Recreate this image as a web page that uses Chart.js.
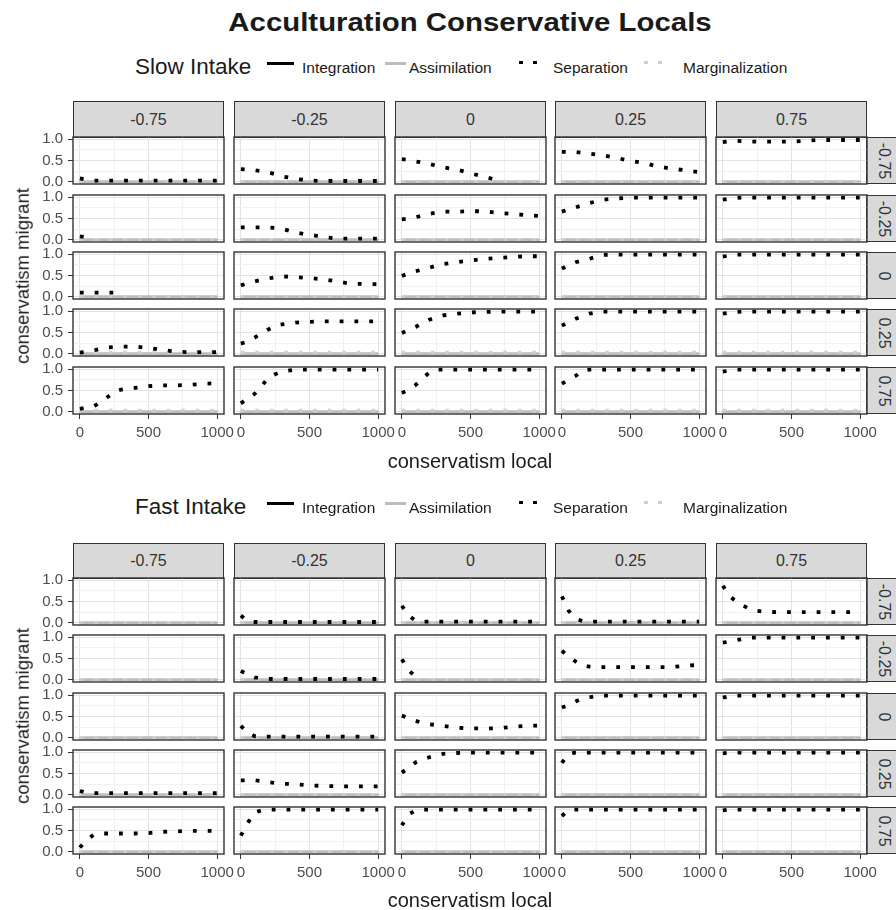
<!DOCTYPE html>
<html><head><meta charset="utf-8">
<script src="https://cdn.jsdelivr.net/npm/chart.js@4.4.1/dist/chart.umd.min.js"></script>
<style>
html,body{margin:0;padding:0;background:#fff;}
#root{position:relative;width:896px;height:910px;overflow:hidden;background:#fff;font-family:"Liberation Sans",Arial,sans-serif;}
canvas{position:absolute;}
.t{position:absolute;white-space:nowrap;line-height:1;}
.strip{position:absolute;background:#d9d9d9;border:1.4px solid #333;box-sizing:border-box;color:#333;font-size:16px;display:flex;align-items:center;justify-content:center;}
.key{position:absolute;}
</style></head>
<body><div id="root"></div>
<script>
// ---------- data ----------
const xLocal = [0,50,100,150,200,250,300,400,500,600,700,800,900,1000];
const colLabels = ['-0.75','-0.25','0','0.25','0.75'];   // conservatism local (columns)
const rowLabels = ['-0.75','-0.25','0','0.25','0.75'];   // conservatism migrant (rows)
const yTickValues = [0, 0.5, 1.0];
const xTickValues = [0, 500, 1000];
const N = null;

// Separation share, slow intake, one list per migrant row, one series per column
const slowSepRow1 = [
  [0.08,0.05,0.03,0.03,0.03,0.03,0.03,0.03,0.03,0.03,0.03,0.03,0.03,0.03],
  [0.30,0.29,0.27,0.25,0.22,0.18,0.13,0.07,0.03,0.02,0.02,0.02,0.02,0.02],
  [0.53,0.51,0.48,0.45,0.42,0.38,0.34,0.29,0.20,0.12,0.04,N,N,N],
  [0.70,0.70,0.70,0.68,0.66,0.64,0.62,0.56,0.49,0.44,0.36,0.31,0.27,0.23],
  [0.93,0.95,0.96,0.95,0.94,0.94,0.94,0.94,0.94,0.96,0.98,0.98,0.98,0.98]
];
const slowSepRow2 = [
  [0.08,0.06,N,N,N,N,N,N,N,N,N,N,N,N],
  [0.29,0.29,0.29,0.29,0.29,0.28,0.26,0.17,0.12,0.07,0.03,0.03,0.03,0.03],
  [0.48,0.50,0.53,0.57,0.61,0.64,0.66,0.66,0.67,0.67,0.63,0.61,0.58,0.56],
  [0.66,0.71,0.76,0.81,0.86,0.90,0.94,0.97,0.99,0.99,0.99,0.99,0.99,0.99],
  [0.94,0.96,0.98,0.99,0.99,0.99,0.99,0.99,0.99,0.99,0.99,0.99,0.99,0.99]
];
const slowSepRow3 = [
  [0.10,0.10,0.10,0.10,0.10,0.10,N,N,N,N,N,N,N,N],
  [0.27,0.32,0.36,0.40,0.43,0.46,0.48,0.46,0.44,0.41,0.36,0.31,0.30,0.30],
  [0.49,0.55,0.60,0.64,0.68,0.73,0.77,0.81,0.85,0.89,0.91,0.93,0.95,0.95],
  [0.66,0.74,0.81,0.85,0.89,0.94,0.98,0.99,0.99,0.99,0.99,0.99,0.99,0.99],
  [0.94,0.97,0.99,0.99,0.99,0.99,0.99,0.99,0.99,0.99,0.99,0.99,0.99,0.99]
];
const slowSepRow4 = [
  [0.03,0.05,0.08,0.12,0.15,0.16,0.17,0.17,0.14,0.09,0.05,0.04,0.04,0.04],
  [0.24,0.29,0.38,0.48,0.57,0.66,0.69,0.73,0.75,0.76,0.76,0.76,0.76,0.76],
  [0.49,0.56,0.63,0.72,0.80,0.86,0.90,0.94,0.97,0.98,0.99,0.99,0.99,0.99],
  [0.66,0.74,0.82,0.88,0.94,0.97,0.99,0.99,0.99,0.99,0.99,0.99,0.99,0.99],
  [0.94,0.96,0.98,0.99,0.99,0.99,0.99,0.99,0.99,0.99,0.99,0.99,0.99,0.99]
];
const slowSepRow5 = [
  [0.07,0.10,0.13,0.22,0.34,0.47,0.52,0.56,0.60,0.62,0.62,0.63,0.66,0.67],
  [0.20,0.31,0.42,0.60,0.80,0.88,0.94,0.99,0.99,0.99,0.99,0.99,0.99,0.99],
  [0.44,0.52,0.63,0.78,0.92,0.99,0.99,0.99,0.99,0.99,0.99,0.99,0.99,0.99],
  [0.66,0.75,0.84,0.97,0.99,0.99,0.99,0.99,0.99,0.99,0.99,0.99,0.99,0.99],
  [0.94,0.97,0.99,0.99,0.99,0.99,0.99,0.99,0.99,0.99,0.99,0.99,0.99,0.99]
];
// Separation share, fast intake
const fastSepRow1 = [
  [N,N,N,N,N,N,N,N,N,N,N,N,N,N],
  [0.17,0.04,0.02,0.02,0.02,0.02,0.02,0.02,0.02,0.02,0.02,0.02,0.02,0.02],
  [0.40,0.17,0.05,0.03,0.03,0.03,0.03,0.03,0.03,0.03,0.03,0.03,0.03,0.03],
  [0.62,0.28,0.10,0.04,0.03,0.03,0.03,0.03,0.03,0.03,0.03,0.03,0.03,0.03],
  [0.87,0.62,0.50,0.40,0.32,0.28,0.26,0.25,0.25,0.25,0.25,0.25,0.25,0.25]
];
const fastSepRow2 = [
  [N,N,N,N,N,N,N,N,N,N,N,N,N,N],
  [0.21,0.12,0.06,0.03,0.02,0.02,0.02,0.02,0.02,0.02,0.02,0.02,0.02,0.02],
  [0.48,0.22,0.08,N,N,N,N,N,N,N,N,N,N,N],
  [0.68,0.55,0.43,0.34,0.31,0.30,0.30,0.30,0.30,0.30,0.30,0.30,0.33,0.35],
  [0.87,0.90,0.93,0.96,0.99,0.99,0.99,0.99,0.99,0.99,0.99,0.99,0.99,0.99]
];
const fastSepRow3 = [
  [N,N,N,N,N,N,N,N,N,N,N,N,N,N],
  [0.28,0.12,0.04,0.03,0.03,0.03,0.03,0.03,0.03,0.03,0.03,0.03,0.03,0.03],
  [0.52,0.46,0.40,0.35,0.32,0.30,0.28,0.24,0.22,0.22,0.22,0.26,0.28,0.29],
  [0.71,0.77,0.85,0.92,0.95,0.98,0.99,0.99,0.99,0.99,0.99,0.99,0.99,0.99],
  [0.94,0.98,0.99,0.99,0.99,0.99,0.99,0.99,0.99,0.99,0.99,0.99,0.99,0.99]
];
const fastSepRow4 = [
  [0.09,0.05,0.04,0.04,0.04,0.04,0.04,0.04,0.04,0.04,0.04,0.04,0.04,0.04],
  [0.34,0.34,0.34,0.32,0.30,0.28,0.26,0.25,0.22,0.21,0.20,0.20,0.20,0.20],
  [0.52,0.64,0.76,0.83,0.88,0.92,0.96,0.98,0.99,0.99,0.99,0.99,0.99,0.99],
  [0.75,0.96,0.99,0.99,0.99,0.99,0.99,0.99,0.99,0.99,0.99,0.99,0.99,0.99],
  [0.97,0.99,0.99,0.99,0.99,0.99,0.99,0.99,0.99,0.99,0.99,0.99,0.99,0.99]
];
const fastSepRow5 = [
  [0.10,0.28,0.40,0.43,0.43,0.43,0.43,0.43,0.44,0.47,0.48,0.49,0.49,0.49],
  [0.38,0.68,0.92,0.97,0.99,0.99,0.99,0.99,0.99,0.99,0.99,0.99,0.99,0.99],
  [0.62,0.88,0.97,0.99,0.99,0.99,0.99,0.99,0.99,0.99,0.99,0.99,0.99,0.99],
  [0.84,0.98,0.99,0.99,0.99,0.99,0.99,0.99,0.99,0.99,0.99,0.99,0.99,0.99],
  [0.97,0.99,0.99,0.99,0.99,0.99,0.99,0.99,0.99,0.99,0.99,0.99,0.99,0.99]
];
// Integration / Assimilation stay at zero; Marginalization slightly above zero in some rows
const integrationZero   = [0,0,0,0,0,0,0,0,0,0,0,0,0,0];
const assimilationZero  = [0,0,0,0,0,0,0,0,0,0,0,0,0,0];
const marginalizationLow    = [0,0,0,0,0,0,0,0,0,0,0,0,0,0];
const marginalizationRaised = [0.03,0.03,0.03,0.03,0.03,0.03,0.03,0.03,0.03,0.03,0.03,0.03,0.03,0.03];

const slowRows = [slowSepRow1, slowSepRow2, slowSepRow3, slowSepRow4, slowSepRow5];
const fastRows = [fastSepRow1, fastSepRow2, fastSepRow3, fastSepRow4, fastSepRow5];
const slowMarg = [marginalizationLow, marginalizationLow, marginalizationLow, marginalizationRaised, marginalizationRaised];
const fastMarg = [marginalizationLow, marginalizationLow, marginalizationLow, marginalizationLow, marginalizationLow];

// ---------- layout ----------
const root = document.getElementById('root');
const colLeft = [73, 234, 395, 555, 716];
const panelW = 151, panelH = 47;
const slowTop = [137, 195, 252, 309, 367];
const fastTop = [578, 635, 693, 750, 807];
const PAD = 18, YW = 55, XH = 32;
const FONT = '"Liberation Sans", Arial, sans-serif';

function text(str, x, y, css, anchor) {
  const d = document.createElement('div');
  d.className = 't';
  d.textContent = str;
  d.style.cssText += css || '';
  d.style.left = x + 'px'; d.style.top = y + 'px';
  d.style.transform = anchor || 'translate(0,-50%)';
  root.appendChild(d);
  return d;
}
function box(x, y, w, h, css) {
  const d = document.createElement('div');
  d.className = 'key';
  d.style.cssText = `left:${x}px;top:${y}px;width:${w}px;height:${h}px;` + css;
  root.appendChild(d);
}

const borderPlugin = {
  id: 'panelBorder',
  afterDatasetsDraw(chart) {
    const a = chart.chartArea, c = chart.ctx;
    c.save(); c.strokeStyle = '#333'; c.lineWidth = 1.4;
    c.strokeRect(a.left, a.top, a.right - a.left, a.bottom - a.top);
    c.restore();
  }
};

const isMajorY = v => yTickValues.some(t => Math.abs(t - v) < 1e-9);
const isMajorX = v => xTickValues.includes(v);

function panel(top, ci, ri, sep, marg) {
  const showY = ci === 0, showX = ri === 4;
  const cv = document.createElement('canvas');
  const left = colLeft[ci] - PAD - (showY ? YW : 0);
  const w = panelW + 2 * PAD + (showY ? YW : 0);
  const h = panelH + 2 * PAD + (showX ? XH : 0);
  cv.width = w; cv.height = h;
  cv.style.left = left + 'px'; cv.style.top = (top - PAD) + 'px';
  cv.style.width = w + 'px'; cv.style.height = h + 'px';
  root.appendChild(cv);
  const pts = arr => xLocal.map((x, i) => ({x: x, y: arr[i]}));
  new Chart(cv, {
    type: 'line',
    data: { datasets: [
      {label: 'Separation', data: pts(sep), borderColor: '#000', borderWidth: 3.8, borderDash: [3.8, 11], borderCapStyle: 'butt'},
      {label: 'Marginalization', data: pts(marg), borderColor: '#cfcfcf', borderWidth: 3.5, borderDash: [3.5, 11], borderCapStyle: 'butt'},
      {label: 'Assimilation', data: pts(assimilationZero), borderColor: '#bdbdbd', borderWidth: 3},
      {label: 'Integration', data: pts(integrationZero), borderColor: '#000', borderWidth: 1.5}
    ]},
    options: {
      responsive: false, animation: false, devicePixelRatio: 1,
      layout: {padding: PAD},
      elements: {point: {radius: 0}, line: {tension: 0, fill: false}},
      spanGaps: false,
      plugins: {legend: {display: false}, tooltip: {enabled: false}, title: {display: false}},
      scales: {
        x: {
          type: 'linear', min: -50, max: 1050,
          afterBuildTicks: s => { s.ticks = [0, 250, 500, 750, 1000].map(v => ({value: v})); },
          afterFit: s => { s.height = showX ? XH : 0; s.paddingLeft = 0; s.paddingRight = 0; },
          border: {display: false},
          grid: {
            color: c => isMajorX(c.tick.value) ? '#e3e3e3' : '#f1f1f1',
            lineWidth: 1, drawTicks: showX, tickLength: 5,
            tickColor: c => isMajorX(c.tick.value) ? '#333' : 'rgba(0,0,0,0)'
          },
          ticks: {display: showX, autoSkip: false, maxRotation: 0, padding: 5, color: '#4d4d4d',
            font: {family: FONT, size: 15},
            callback: v => isMajorX(v) ? String(v) : ''}
        },
        y: {
          type: 'linear', min: -0.05, max: 1.05,
          afterBuildTicks: s => { s.ticks = [0, 0.25, 0.5, 0.75, 1].map(v => ({value: v})); },
          afterFit: s => { s.width = showY ? YW : 0; s.paddingTop = 0; s.paddingBottom = 0; },
          border: {display: false},
          grid: {
            color: c => isMajorY(c.tick.value) ? '#e3e3e3' : '#f1f1f1',
            lineWidth: 1, drawTicks: showY, tickLength: 5,
            tickColor: c => isMajorY(c.tick.value) ? '#333' : 'rgba(0,0,0,0)'
          },
          ticks: {display: showY, autoSkip: false, padding: 5, color: '#4d4d4d',
            font: {family: FONT, size: 15},
            callback: v => isMajorY(v) ? Number(v).toFixed(1) : ''}
        }
      }
    },
    plugins: [borderPlugin]
  });
}

function block(tops, rows, margs, intakeLabel, legendY, stripTop, axisTitleY) {
  // legend
  text(intakeLabel, 135, legendY, 'font-size:22.5px;color:#1a1a1a;');
  box(267, legendY - 5.5, 27, 3, 'background:#000;');
  text('Integration', 302, legendY + 1, 'font-size:15.5px;color:#1a1a1a;');
  box(385, legendY - 5.5, 21, 3, 'background:#bdbdbd;');
  text('Assimilation', 409, legendY + 1, 'font-size:15.5px;color:#1a1a1a;');
  box(519, legendY - 6.5, 3.5, 3.5, 'background:#000;');
  box(533, legendY - 6.5, 3.5, 3.5, 'background:#000;');
  text('Separation', 553, legendY + 1, 'font-size:15.5px;color:#1a1a1a;');
  box(644, legendY - 6.5, 3.5, 3.5, 'background:#cfcfcf;');
  box(658, legendY - 6.5, 3.5, 3.5, 'background:#cfcfcf;');
  text('Marginalization', 683, legendY + 1, 'font-size:15.5px;color:#1a1a1a;');
  // column strips
  colLabels.forEach((lab, ci) => {
    const s = document.createElement('div');
    s.className = 'strip';
    s.style.left = colLeft[ci] + 'px'; s.style.top = stripTop + 'px';
    s.style.width = panelW + 'px'; s.style.height = (tops[0] - stripTop + 1) + 'px';
    s.textContent = lab; root.appendChild(s);
  });
  // row strips
  rowLabels.forEach((lab, ri) => {
    const s = document.createElement('div');
    s.className = 'strip';
    s.style.left = (colLeft[4] + panelW - 1) + 'px'; s.style.top = tops[ri] + 'px';
    s.style.width = '36px'; s.style.height = panelH + 'px';
    const inner = document.createElement('span');
    inner.textContent = lab; inner.style.transform = 'rotate(90deg)'; inner.style.display = 'inline-block'; inner.style.whiteSpace = 'nowrap';
    s.appendChild(inner); root.appendChild(s);
  });
  // panels
  rows.forEach((row, ri) => row.forEach((sep, ci) => panel(tops[ri], ci, ri, sep, margs[ri])));
  // axis titles
  text('conservatism migrant', 23, (tops[0] + tops[4] + panelH) / 2, 'font-size:18.5px;color:#1a1a1a;', 'translate(-50%,-50%) rotate(-90deg)');
  text('conservatism local', 470, axisTitleY, 'font-size:20px;color:#1a1a1a;', 'translate(-50%,-50%)');
}

text('Acculturation Conservative Locals', 470, 22, 'font-size:26px;font-weight:bold;color:#1a1a1a;', 'translate(-50%,-50%) scaleX(1.13)');
block(slowTop, slowRows, slowMarg, 'Slow Intake', 67, 101, 461);
block(fastTop, fastRows, fastMarg, 'Fast Intake', 507, 543, 900);
</script>
</body></html>
